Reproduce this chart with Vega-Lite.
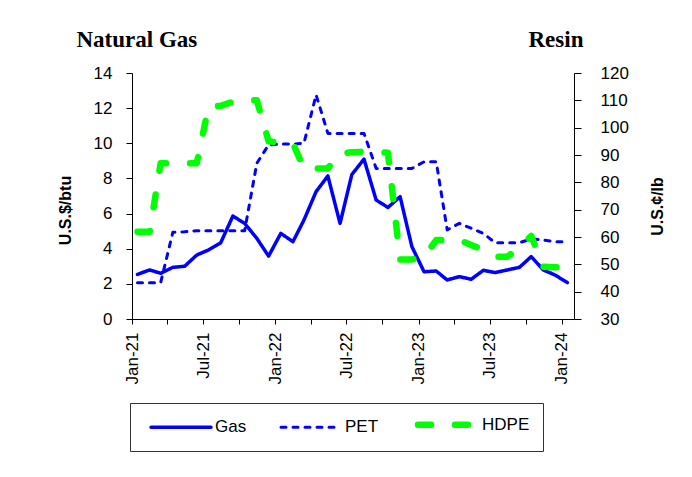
{
  "$schema": "https://vega.github.io/schema/vega-lite/v6.json",
  "width": 442,
  "height": 246,
  "autosize": {"type": "none"},
  "padding": {"left": 132, "top": 73, "right": 118, "bottom": 158},
  "background": "white",
  "config": {"view": {"stroke": null}, "font": "Liberation Sans"},
  "layer": [
    {
      "data": {"values": [
        {"date": "2021-01-15", "series": "Gas", "value": 2.54},
        {"date": "2021-02-15", "series": "Gas", "value": 2.79},
        {"date": "2021-03-15", "series": "Gas", "value": 2.60},
        {"date": "2021-04-15", "series": "Gas", "value": 2.94},
        {"date": "2021-05-15", "series": "Gas", "value": 3.00},
        {"date": "2021-06-15", "series": "Gas", "value": 3.64},
        {"date": "2021-07-15", "series": "Gas", "value": 3.93},
        {"date": "2021-08-15", "series": "Gas", "value": 4.34},
        {"date": "2021-09-15", "series": "Gas", "value": 5.86},
        {"date": "2021-10-15", "series": "Gas", "value": 5.44},
        {"date": "2021-11-15", "series": "Gas", "value": 4.59},
        {"date": "2021-12-15", "series": "Gas", "value": 3.58},
        {"date": "2022-01-15", "series": "Gas", "value": 4.87},
        {"date": "2022-02-15", "series": "Gas", "value": 4.40},
        {"date": "2022-03-15", "series": "Gas", "value": 5.63},
        {"date": "2022-04-15", "series": "Gas", "value": 7.25},
        {"date": "2022-05-15", "series": "Gas", "value": 8.14},
        {"date": "2022-06-15", "series": "Gas", "value": 5.44},
        {"date": "2022-07-15", "series": "Gas", "value": 8.22},
        {"date": "2022-08-15", "series": "Gas", "value": 9.10},
        {"date": "2022-09-15", "series": "Gas", "value": 6.77},
        {"date": "2022-10-15", "series": "Gas", "value": 6.35},
        {"date": "2022-11-15", "series": "Gas", "value": 6.96},
        {"date": "2022-12-15", "series": "Gas", "value": 4.12},
        {"date": "2023-01-15", "series": "Gas", "value": 2.69},
        {"date": "2023-02-15", "series": "Gas", "value": 2.73},
        {"date": "2023-03-15", "series": "Gas", "value": 2.22},
        {"date": "2023-04-15", "series": "Gas", "value": 2.41},
        {"date": "2023-05-15", "series": "Gas", "value": 2.26},
        {"date": "2023-06-15", "series": "Gas", "value": 2.77},
        {"date": "2023-07-15", "series": "Gas", "value": 2.64},
        {"date": "2023-08-15", "series": "Gas", "value": 2.79},
        {"date": "2023-09-15", "series": "Gas", "value": 2.94},
        {"date": "2023-10-15", "series": "Gas", "value": 3.55},
        {"date": "2023-11-15", "series": "Gas", "value": 2.79},
        {"date": "2023-12-15", "series": "Gas", "value": 2.50},
        {"date": "2024-01-15", "series": "Gas", "value": 2.07}
      ]},
      "mark": {"type": "line", "strokeJoin": "round", "strokeCap": "round"},
      "encoding": {
        "x": {
          "field": "date", "type": "temporal",
          "scale": {"type": "utc", "domain": ["2021-01-01", "2024-02-01"]},
          "axis": {
            "orient": "bottom",
            "tickCount": {"interval": "month", "step": 3},
            "labelExpr": "utcmonth(datum.value) % 6 == 0 ? utcFormat(datum.value, '%b-%y') : ''",
            "labelAngle": -90, "labelFontSize": 17, "labelColor": "black", "labelPadding": 8,
            "labelOverlap": false, "labelFlush": false, "labelBound": false,
            "tickSize": 5, "tickColor": "black", "domainColor": "black", "grid": false,
            "title": "Natural Gas", "titleX": -56, "titleY": -273, "titleAngle": 0,
            "titleAlign": "left", "titleBaseline": "alphabetic",
            "titleFont": "Liberation Serif", "titleFontSize": 23, "titleFontWeight": "bold", "titleColor": "black"
          }
        },
        "y": {
          "field": "value", "type": "quantitative",
          "scale": {"domain": [0, 14], "nice": false, "zero": false},
          "axis": {
            "orient": "left", "title": "U.S.$/btu",
            "values": [0, 2, 4, 6, 8, 10, 12, 14],
            "labelFontSize": 17, "labelColor": "black", "labelPadding": 14,
            "tickSize": 6, "tickColor": "black", "domainColor": "black", "grid": false,
            "titleFontSize": 16, "titleFontWeight": "bold", "titleColor": "black",
            "titlePadding": 20, "titleY": 137
          }
        },
        "color": {
          "field": "series", "type": "nominal",
          "scale": {"domain": ["Gas", "PET", "HDPE"], "range": ["#0000ff", "#0000ff", "#00ff00"]},
          "legend": {
            "title": null, "orient": "none", "legendX": -2, "legendY": 330,
            "direction": "horizontal", "symbolType": "M-60,0H60", "symbolSize": 1,
            "symbolOffset": 29.5,
            "labelFontSize": 17, "labelColor": "black", "labelOffset": 25.5,
            "columnPadding": 26, "padding": 13, "strokeColor": "#333", "fillColor": "white",
            "encode": {"symbols": {"update": {"strokeCap": {"value": "round"}}}}
          }
        },
        "strokeDash": {
          "field": "series", "type": "nominal",
          "scale": {"domain": ["Gas", "PET", "HDPE"], "range": [[1, 0], [5, 7], [13, 24]]}
        },
        "strokeWidth": {
          "field": "series", "type": "nominal",
          "scale": {"type": "ordinal", "domain": ["Gas", "PET", "HDPE"], "range": [3.5, 3, 6.5]}
        }
      }
    },
    {
      "data": {"values": [
        {"date": "2021-01-15", "series": "PET", "value": 43.3},
        {"date": "2021-02-15", "series": "PET", "value": 43.3},
        {"date": "2021-03-15", "series": "PET", "value": 43.3},
        {"date": "2021-04-15", "series": "PET", "value": 61.7},
        {"date": "2021-05-15", "series": "PET", "value": 61.9},
        {"date": "2021-06-15", "series": "PET", "value": 62.3},
        {"date": "2021-07-15", "series": "PET", "value": 62.3},
        {"date": "2021-08-15", "series": "PET", "value": 62.3},
        {"date": "2021-09-15", "series": "PET", "value": 62.3},
        {"date": "2021-10-15", "series": "PET", "value": 62.3},
        {"date": "2021-11-15", "series": "PET", "value": 87.0},
        {"date": "2021-12-15", "series": "PET", "value": 93.7},
        {"date": "2022-01-15", "series": "PET", "value": 94.0},
        {"date": "2022-02-15", "series": "PET", "value": 94.0},
        {"date": "2022-03-15", "series": "PET", "value": 94.3},
        {"date": "2022-04-15", "series": "PET", "value": 112.0},
        {"date": "2022-05-15", "series": "PET", "value": 97.9},
        {"date": "2022-06-15", "series": "PET", "value": 97.9},
        {"date": "2022-07-15", "series": "PET", "value": 97.9},
        {"date": "2022-08-15", "series": "PET", "value": 97.9},
        {"date": "2022-09-15", "series": "PET", "value": 85.1},
        {"date": "2022-10-15", "series": "PET", "value": 85.1},
        {"date": "2022-11-15", "series": "PET", "value": 85.1},
        {"date": "2022-12-15", "series": "PET", "value": 85.1},
        {"date": "2023-01-15", "series": "PET", "value": 87.5},
        {"date": "2023-02-15", "series": "PET", "value": 87.5},
        {"date": "2023-03-15", "series": "PET", "value": 62.6},
        {"date": "2023-04-15", "series": "PET", "value": 65.0},
        {"date": "2023-05-15", "series": "PET", "value": 63.2},
        {"date": "2023-06-15", "series": "PET", "value": 61.3},
        {"date": "2023-07-15", "series": "PET", "value": 57.9},
        {"date": "2023-08-15", "series": "PET", "value": 57.9},
        {"date": "2023-09-15", "series": "PET", "value": 57.9},
        {"date": "2023-10-15", "series": "PET", "value": 59.3},
        {"date": "2023-11-15", "series": "PET", "value": 58.9},
        {"date": "2023-12-15", "series": "PET", "value": 58.3},
        {"date": "2024-01-15", "series": "PET", "value": 58.3},
        {"date": "2021-01-15", "series": "HDPE", "value": 61.9},
        {"date": "2021-02-15", "series": "HDPE", "value": 61.9},
        {"date": "2021-03-15", "series": "HDPE", "value": 87.0},
        {"date": "2021-04-15", "series": "HDPE", "value": 87.0},
        {"date": "2021-05-15", "series": "HDPE", "value": 87.0},
        {"date": "2021-06-15", "series": "HDPE", "value": 87.0},
        {"date": "2021-07-15", "series": "HDPE", "value": 107.7},
        {"date": "2021-08-15", "series": "HDPE", "value": 108.0},
        {"date": "2021-09-15", "series": "HDPE", "value": 109.5},
        {"date": "2021-10-15", "series": "HDPE", "value": 110.0},
        {"date": "2021-11-15", "series": "HDPE", "value": 110.0},
        {"date": "2021-12-15", "series": "HDPE", "value": 95.0},
        {"date": "2022-01-15", "series": "HDPE", "value": 94.5},
        {"date": "2022-02-15", "series": "HDPE", "value": 94.3},
        {"date": "2022-03-15", "series": "HDPE", "value": 85.1},
        {"date": "2022-04-15", "series": "HDPE", "value": 85.1},
        {"date": "2022-05-15", "series": "HDPE", "value": 85.1},
        {"date": "2022-06-15", "series": "HDPE", "value": 90.6},
        {"date": "2022-07-15", "series": "HDPE", "value": 91.0},
        {"date": "2022-08-15", "series": "HDPE", "value": 91.2},
        {"date": "2022-09-15", "series": "HDPE", "value": 91.2},
        {"date": "2022-10-15", "series": "HDPE", "value": 90.8},
        {"date": "2022-11-15", "series": "HDPE", "value": 51.8},
        {"date": "2022-12-15", "series": "HDPE", "value": 51.8},
        {"date": "2023-01-15", "series": "HDPE", "value": 52.6},
        {"date": "2023-02-15", "series": "HDPE", "value": 58.9},
        {"date": "2023-03-15", "series": "HDPE", "value": 58.9},
        {"date": "2023-04-15", "series": "HDPE", "value": 58.9},
        {"date": "2023-05-15", "series": "HDPE", "value": 57.1},
        {"date": "2023-06-15", "series": "HDPE", "value": 55.2},
        {"date": "2023-07-15", "series": "HDPE", "value": 52.8},
        {"date": "2023-08-15", "series": "HDPE", "value": 52.8},
        {"date": "2023-09-15", "series": "HDPE", "value": 55.9},
        {"date": "2023-10-15", "series": "HDPE", "value": 60.4},
        {"date": "2023-11-15", "series": "HDPE", "value": 49.1},
        {"date": "2023-12-15", "series": "HDPE", "value": 48.9},
        {"date": "2024-01-15", "series": "HDPE", "value": 48.9}
      ]},
      "mark": {"type": "line", "strokeJoin": "round", "strokeCap": "round"},
      "encoding": {
        "x": {
          "field": "date", "type": "temporal",
          "scale": {"type": "utc", "domain": ["2021-01-01", "2024-02-01"]},
          "axis": {
            "orient": "top", "labels": false, "ticks": false, "domain": false, "grid": false,
            "title": "Resin", "titleX": 396, "titleY": -27, "titleAngle": 0,
            "titleAlign": "left", "titleBaseline": "alphabetic",
            "titleFont": "Liberation Serif", "titleFontSize": 23, "titleFontWeight": "bold", "titleColor": "black"
          }
        },
        "y": {
          "field": "value", "type": "quantitative",
          "scale": {"domain": [30, 120], "nice": false, "zero": false},
          "axis": {
            "orient": "right", "title": "U.S.¢/lb",
            "values": [30, 40, 50, 60, 70, 80, 90, 100, 110, 120],
            "labelFontSize": 17, "labelColor": "black", "labelPadding": 19,
            "tickSize": 7, "tickColor": "black", "domainColor": "black", "grid": false,
            "titleFontSize": 16, "titleFontWeight": "bold", "titleColor": "black",
            "titleAngle": 270, "titleBaseline": "top", "titlePadding": 21, "titleY": 133
          }
        },
        "color": {
          "field": "series", "type": "nominal",
          "scale": {"domain": ["Gas", "PET", "HDPE"], "range": ["#0000ff", "#0000ff", "#00ff00"]},
          "legend": {
            "title": null, "orient": "none", "legendX": -2, "legendY": 330,
            "direction": "horizontal", "symbolType": "M-60,0H60", "symbolSize": 1,
            "symbolOffset": 29.5,
            "labelFontSize": 17, "labelColor": "black", "labelOffset": 25.5,
            "columnPadding": 26, "padding": 13, "strokeColor": "#333", "fillColor": "white",
            "encode": {"symbols": {"update": {"strokeCap": {"value": "round"}}}}
          }
        },
        "strokeDash": {
          "field": "series", "type": "nominal",
          "scale": {"domain": ["Gas", "PET", "HDPE"], "range": [[1, 0], [5, 7], [13, 24]]}
        },
        "strokeWidth": {
          "field": "series", "type": "nominal",
          "scale": {"type": "ordinal", "domain": ["Gas", "PET", "HDPE"], "range": [3.5, 3, 6.5]}
        }
      }
    }
  ],
  "resolve": {"scale": {"y": "independent"}, "axis": {"x": "independent"}}
}
